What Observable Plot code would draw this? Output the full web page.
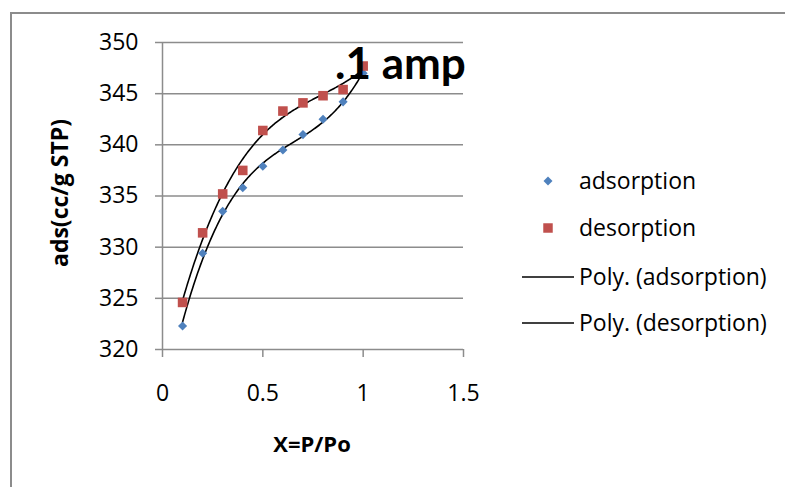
<!DOCTYPE html>
<html><head><meta charset="utf-8">
<script src="https://cdn.jsdelivr.net/npm/d3@7"></script>
<script src="https://cdn.jsdelivr.net/npm/@observablehq/plot@0.6"></script>
<style>
body{margin:0;background:#fff;font-family:"Open Sans",sans-serif;}
#wrap{position:relative;width:785px;height:487px;overflow:hidden;background:#fff;}
#frame{position:absolute;left:10px;top:12px;width:800px;height:500px;border-left:2px solid #8c8c8c;border-top:2px solid #8c8c8c;}
#chart{position:absolute;left:0;top:0;}
#over{position:absolute;left:0;top:0;pointer-events:none;}
</style>
</head><body>
<div id="wrap"><div id="frame"></div><div id="chart"></div><svg id="over" width="785" height="487"></svg></div>
<script>
// ---- data ----
const pressure   = [0.1, 0.2, 0.3, 0.4, 0.5, 0.6, 0.7, 0.8, 0.9, 1.0];
const adsorption = [322.3, 329.4, 333.5, 335.8, 337.9, 339.5, 341.0, 342.5, 344.2, 347.0];
const desorption = [324.6, 331.4, 335.2, 337.5, 341.4, 343.3, 344.1, 344.8, 345.4, 347.7];
const xTicks = [0, 0.5, 1, 1.5];
const yTicks = [320, 325, 330, 335, 340, 345, 350];
const seriesNames = ["adsorption", "desorption", "Poly. (adsorption)", "Poly. (desorption)"];
const annotation = ".1 amp";
const xTitle = "X=P/Po";
const yTitle = "ads(cc/g STP)";
const polyOrder = 3;

const blue = "#4F81BD", red = "#C0504D", grid = "#8c8c8c";

// least-squares polynomial fit (as an Excel polynomial trendline)
function polyfit(xs, ys, n) {
  const m = n + 1;
  const A = Array.from({length: m}, () => new Array(m + 1).fill(0));
  for (let r = 0; r < m; r++) {
    for (let c = 0; c < m; c++) A[r][c] = d3.sum(xs, x => Math.pow(x, r + c));
    A[r][m] = d3.sum(xs, (x, i) => Math.pow(x, r) * ys[i]);
  }
  for (let i = 0; i < m; i++) {
    let p = i;
    for (let k = i + 1; k < m; k++) if (Math.abs(A[k][i]) > Math.abs(A[p][i])) p = k;
    [A[i], A[p]] = [A[p], A[i]];
    for (let k = i + 1; k < m; k++) {
      const f = A[k][i] / A[i][i];
      for (let c = i; c <= m; c++) A[k][c] -= f * A[i][c];
    }
  }
  const coef = new Array(m).fill(0);
  for (let i = m - 1; i >= 0; i--) {
    let s = A[i][m];
    for (let c = i + 1; c < m; c++) s -= A[i][c] * coef[c];
    coef[i] = s / A[i][i];
  }
  return x => coef.reduce((acc, a, k) => acc + a * Math.pow(x, k), 0);
}
function trend(ys, name) {
  const f = polyfit(pressure, ys, polyOrder);
  const lo = d3.min(pressure), hi = d3.max(pressure);
  return d3.range(0, 181).map(i => { const x = lo + (hi - lo) * i / 180; return {x, y: f(x), s: name}; });
}
const ptsA = pressure.map((x, i) => ({x, y: adsorption[i]}));
const ptsD = pressure.map((x, i) => ({x, y: desorption[i]}));
const trA = trend(adsorption, seriesNames[2]);
const trD = trend(desorption, seriesNames[3]);

const chart = Plot.plot({
  width: 785, height: 487,
  marginLeft: 162, marginRight: 322, marginTop: 42, marginBottom: 138,
  style: {fontFamily: "'Open Sans', sans-serif", fontSize: "23px", color: "#000", background: "transparent", overflow: "visible"},
  x: {domain: [0, 1.5]},
  y: {domain: [320, 350]},
  marks: [
    Plot.gridY(yTicks, {stroke: grid, strokeOpacity: 1, strokeWidth: 1.5}),
    Plot.ruleX([0], {stroke: grid, strokeWidth: 1.5}),
    Plot.axisX(xTicks, {tickSize: 8, tickPadding: 27, stroke: grid, strokeWidth: 1.5, fill: "#000", label: null, tickFormat: d => String(d)}),
    Plot.axisY(yTicks, {tickSize: 7, tickPadding: 17, stroke: grid, strokeWidth: 1.5, fill: "#000", label: null}),
    Plot.line(trA, {x: "x", y: "y", stroke: "#000", strokeWidth: 1.6, curve: "linear"}),
    Plot.line(trD, {x: "x", y: "y", stroke: "#000", strokeWidth: 1.6, curve: "linear"}),
    Plot.dot(ptsA, {x: "x", y: "y", symbol: "diamond2", r: 4.1, fill: blue, stroke: "none"}),
    Plot.dot(ptsD, {x: "x", y: "y", symbol: "square", r: 5.4, fill: red, stroke: "none"})
  ]
});
document.getElementById("chart").appendChild(chart);

// overlay: titles, annotation, legend
const over = d3.select("#over");
over.append("text").attr("x", 335).attr("y", 79).attr("font-family", "Lato, sans-serif")
  .attr("font-weight", "bold").attr("font-size", 44).attr("fill", "#000").text(annotation);
over.append("text").attr("x", 312).attr("y", 452).attr("text-anchor", "middle").attr("font-family", "'Open Sans', sans-serif")
  .attr("font-weight", "bold").attr("font-size", 22).text(xTitle);
over.append("text").attr("transform", "translate(68,193) rotate(-90)").attr("text-anchor", "middle").attr("font-family", "'Open Sans', sans-serif")
  .attr("font-weight", "bold").attr("font-size", 23).text(yTitle);

const legY = [181, 228, 277, 323];
const lg = over.append("g").attr("font-family", "'Open Sans', sans-serif").attr("font-size", 23);
lg.append("path").attr("d", d3.symbol(d3.symbolDiamond2, 52)()).attr("transform", `translate(548,${legY[0]})`).attr("fill", blue);
lg.append("path").attr("d", d3.symbol(d3.symbolSquare, 90)()).attr("transform", `translate(548,${legY[1]})`).attr("fill", red);
lg.append("line").attr("x1", 522).attr("x2", 574).attr("y1", legY[2]).attr("y2", legY[2]).attr("stroke", "#000").attr("stroke-width", 1.6);
lg.append("line").attr("x1", 522).attr("x2", 574).attr("y1", legY[3]).attr("y2", legY[3]).attr("stroke", "#000").attr("stroke-width", 1.6);
seriesNames.forEach((n, i) => {
  lg.append("text").attr("x", 579).attr("y", legY[i]).attr("dy", "0.36em").text(n);
});
</script>
</body></html>
